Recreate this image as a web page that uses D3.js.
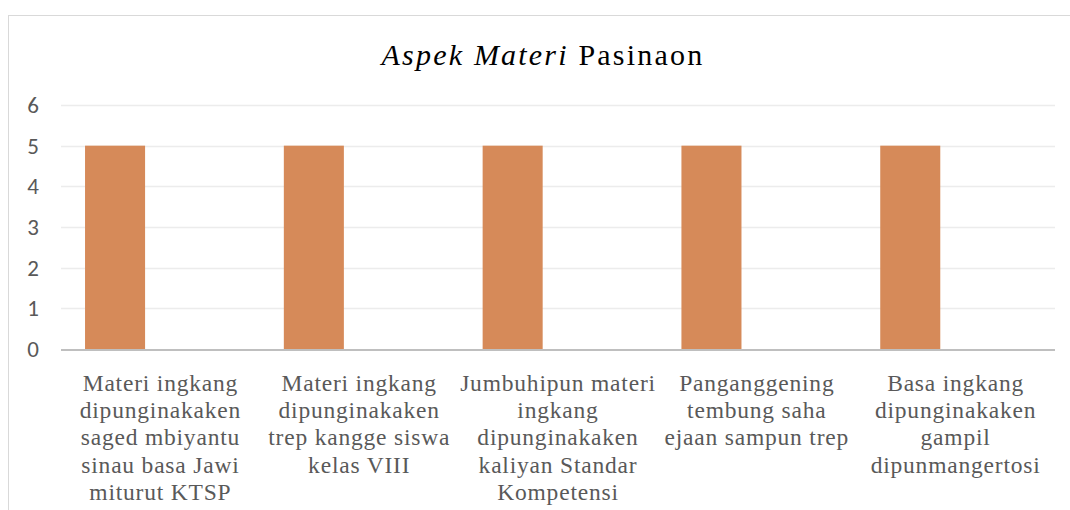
<!DOCTYPE html>
<html>
<head>
<meta charset="utf-8">
<script src="https://cdn.jsdelivr.net/npm/d3@7"></script>
<style>
  html, body { margin: 0; padding: 0; background: #fff; }
  svg { display: block; }
</style>
</head>
<body>
<svg id="chart" width="1070" height="510"></svg>
<script>
// ---- data ----
const categories = [
  "Materi ingkang\ndipunginakaken\nsaged mbiyantu\nsinau basa Jawi\nmiturut KTSP",
  "Materi ingkang\ndipunginakaken\ntrep kangge siswa\nkelas VIII",
  "Jumbuhipun materi\ningkang\ndipunginakaken\nkaliyan Standar\nKompetensi",
  "Panganggening\ntembung saha\nejaan sampun trep",
  "Basa ingkang\ndipunginakaken\ngampil\ndipunmangertosi"
];
const seriesNames = ["Skor", "Seri 2"];
const values = [5, 5, 5, 5, 5];
const yTicks = [0, 1, 2, 3, 4, 5, 6];
const titleItalic = "Aspek Materi";
const titleRoman = " Pasinaon";

// ---- layout ----
const W = 1070, H = 510;
const plot = { left: 61, right: 1055, top: 105, bottom: 349 };
const serif = '"Liberation Serif", "Times New Roman", serif';
const svg = d3.select("#chart");

// chart border
svg.append("rect")
  .attr("x", 8.5).attr("y", 15.5)
  .attr("width", W + 10).attr("height", H + 10)
  .attr("fill", "none").attr("stroke", "#d9d9d9").attr("stroke-width", 1);

const x = d3.scaleBand().domain(categories).range([plot.left, plot.right]).padding(0);
const xSub = d3.scaleBand().domain(seriesNames).range([0, x.bandwidth()])
  .paddingInner(0.338).paddingOuter(0.265);
const y = d3.scaleLinear().domain([0, 6]).range([plot.bottom, plot.top]);

// gridlines
svg.append("g").selectAll("line").data(yTicks.filter(d => d > 0)).join("line")
  .attr("x1", plot.left).attr("x2", plot.right)
  .attr("y1", d => Math.round(y(d)) + 0.5).attr("y2", d => Math.round(y(d)) + 0.5)
  .attr("stroke", "#ececec").attr("stroke-width", 1.5);

// y axis labels
const yAxis = d3.axisLeft(y).tickValues(yTicks).tickFormat(d3.format("d")).tickSize(0).tickPadding(0);
const yg = svg.append("g").attr("transform", `translate(39,0)`).call(yAxis);
yg.select(".domain").remove();
yg.selectAll("text")
  .style("font-family", '"Carlito", "Calibri", sans-serif')
  .style("font-size", "23px")
  .attr("fill", "#595959")
  .attr("dy", "0.33em");

// bars
svg.append("g").selectAll("rect").data(values).join("rect")
  .attr("x", (d, i) => x(categories[i]) + xSub(seriesNames[0]))
  .attr("width", xSub.bandwidth())
  .attr("y", d => y(d))
  .attr("height", d => y(0) - y(d))
  .attr("fill", "#d68a59");

// x axis line
svg.append("line")
  .attr("x1", plot.left).attr("x2", plot.right)
  .attr("y1", y(0) + 1).attr("y2", y(0) + 1)
  .attr("stroke", "#bfbfbf").attr("stroke-width", 2);

// category labels
const xAxis = d3.axisBottom(x).tickSize(0).tickFormat(() => "");
const xg = svg.append("g").attr("transform", `translate(0,${plot.bottom})`).call(xAxis);
xg.select(".domain").remove();
xg.selectAll(".tick").each(function(d) {
  const t = d3.select(this).select("text")
    .style("font-family", serif)
    .style("font-size", "23.5px")
    .style("letter-spacing", "0.8px")
    .attr("fill", "#595959")
    .attr("text-anchor", "middle")
    .attr("y", 0).attr("dy", null);
  d.split("\n").forEach((line, k) => {
    t.append("tspan").attr("x", 0).attr("y", 42 + k * 27.2).text(line);
  });
});

// title
const title = svg.append("text")
  .attr("x", 543).attr("y", 65)
  .attr("text-anchor", "middle")
  .style("font-family", serif)
  .style("font-size", "30px")
  .style("letter-spacing", "2.2px")
  .attr("fill", "#000");
title.append("tspan").style("font-style", "italic").text(titleItalic);
title.append("tspan").text(titleRoman);
</script>
</body>
</html>
